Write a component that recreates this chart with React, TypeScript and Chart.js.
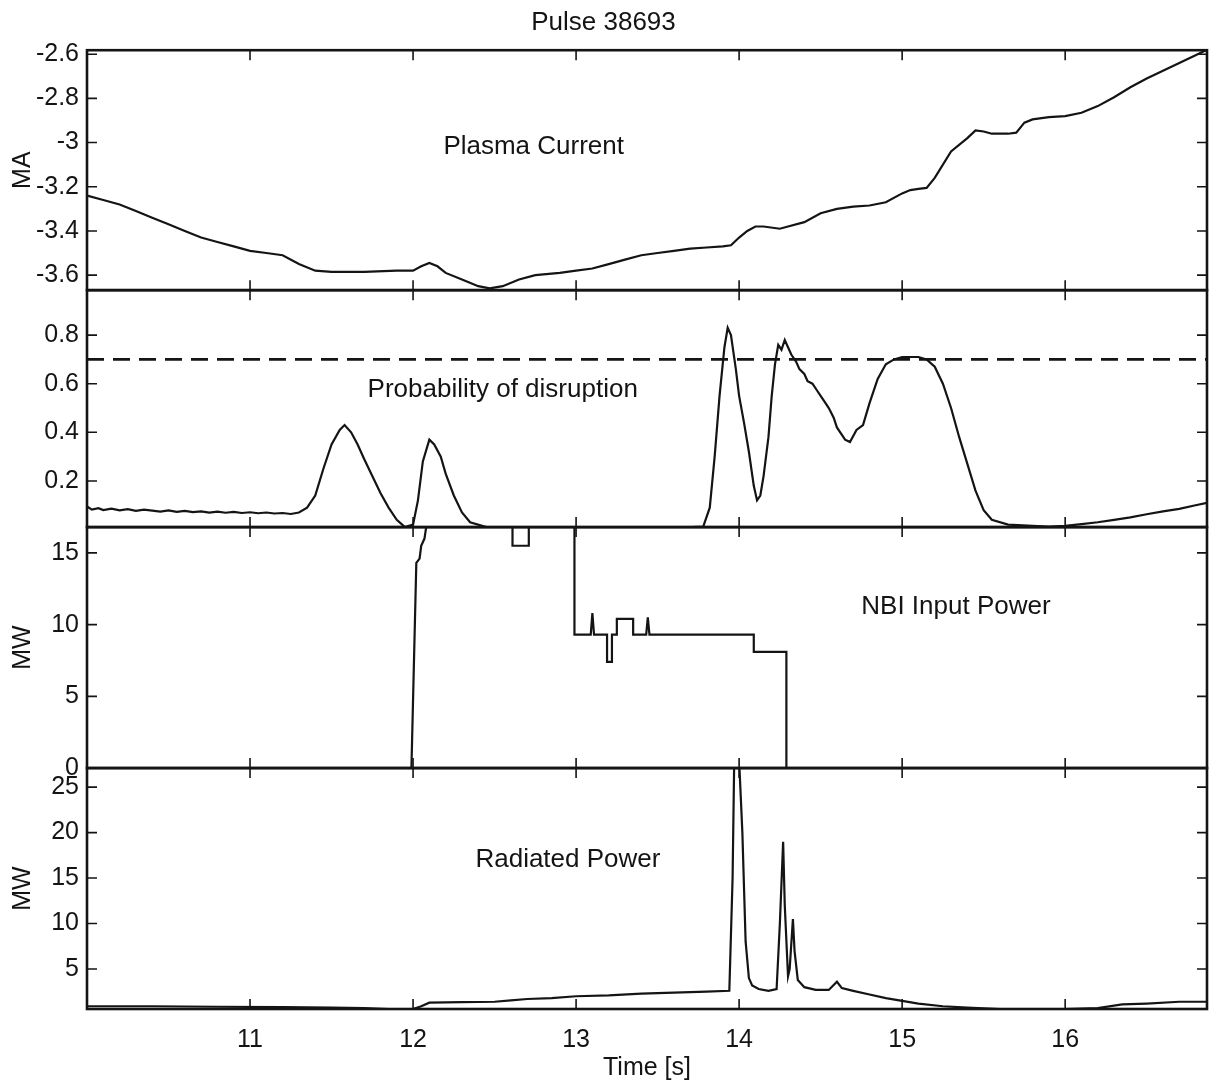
import React, { useEffect, useRef } from "react";
import { Chart, registerables } from "chart.js";

Chart.register(...registerables);

// ---------- data ----------
const CHART_TITLE = "Pulse 38693";
const X_TITLE = "Time [s]";
const X_TICKS = [11, 12, 13, 14, 15, 16];

// Plasma current (MA)
const IP_T = [10.0, 10.1, 10.2, 10.3, 10.4, 10.5, 10.6, 10.7, 10.8, 10.9, 11.0, 11.1, 11.2, 11.3, 11.4, 11.5, 11.7, 11.9, 12.0, 12.05, 12.1, 12.15, 12.2, 12.3, 12.4, 12.47, 12.55, 12.65, 12.75, 12.9, 13.0, 13.1, 13.2, 13.3, 13.4, 13.5, 13.6, 13.7, 13.8, 13.9, 13.95, 14.0, 14.05, 14.1, 14.15, 14.25, 14.3, 14.4, 14.5, 14.6, 14.7, 14.8, 14.9, 15.0, 15.05, 15.1, 15.15, 15.2, 15.3, 15.4, 15.45, 15.5, 15.55, 15.65, 15.7, 15.75, 15.8, 15.9, 16.0, 16.1, 16.2, 16.3, 16.4, 16.5, 16.6, 16.7, 16.8, 16.87];
const IP_V = [-3.24, -3.26, -3.28, -3.31, -3.34, -3.37, -3.40, -3.43, -3.45, -3.47, -3.49, -3.50, -3.51, -3.55, -3.58, -3.585, -3.585, -3.58, -3.58, -3.56, -3.545, -3.56, -3.59, -3.62, -3.65, -3.66, -3.65, -3.62, -3.60, -3.59, -3.58, -3.57, -3.55, -3.53, -3.51, -3.50, -3.49, -3.48, -3.475, -3.47, -3.465, -3.43, -3.40, -3.38, -3.38, -3.39, -3.38, -3.36, -3.32, -3.30, -3.29, -3.285, -3.27, -3.23, -3.215, -3.21, -3.205, -3.16, -3.04, -2.98, -2.945, -2.95, -2.96, -2.96, -2.955, -2.91, -2.895, -2.885, -2.88, -2.865, -2.835, -2.795, -2.75, -2.71, -2.675, -2.64, -2.605, -2.58];
const IP_TICKS = [-3.6, -3.4, -3.2, -3, -2.8, -2.6];

// Probability of disruption
const PD_T = [10.0, 10.03, 10.07, 10.1, 10.15, 10.2, 10.25, 10.3, 10.35, 10.4, 10.45, 10.5, 10.55, 10.6, 10.65, 10.7, 10.75, 10.8, 10.85, 10.9, 10.95, 11.0, 11.05, 11.1, 11.15, 11.2, 11.25, 11.3, 11.35, 11.4, 11.45, 11.5, 11.55, 11.58, 11.62, 11.66, 11.7, 11.75, 11.8, 11.85, 11.9, 11.95, 12.0, 12.03, 12.06, 12.1, 12.13, 12.17, 12.2, 12.25, 12.3, 12.35, 12.45, 12.7, 13.0, 13.3, 13.6, 13.78, 13.82, 13.85, 13.88, 13.91, 13.93, 13.95, 13.98, 14.0, 14.03, 14.06, 14.09, 14.11, 14.13, 14.15, 14.18, 14.2, 14.22, 14.24, 14.26, 14.28, 14.3, 14.32, 14.35, 14.37, 14.4, 14.42, 14.45, 14.48, 14.5, 14.53, 14.55, 14.58, 14.6, 14.65, 14.68, 14.72, 14.76, 14.8, 14.85, 14.9, 14.95, 15.0, 15.1, 15.15, 15.2, 15.25, 15.3, 15.35, 15.4, 15.45, 15.5, 15.55, 15.65, 15.8, 15.9, 16.0, 16.1, 16.2, 16.3, 16.4, 16.5, 16.6, 16.7, 16.8, 16.87];
const PD_V = [0.095, 0.082, 0.088, 0.08, 0.086, 0.079, 0.084, 0.077, 0.082, 0.078, 0.074, 0.079, 0.073, 0.077, 0.072, 0.075, 0.07, 0.074, 0.069, 0.073, 0.068, 0.071, 0.067, 0.07, 0.066, 0.068, 0.064, 0.07, 0.09, 0.14, 0.25, 0.35, 0.41, 0.43, 0.40, 0.35, 0.29, 0.22, 0.15, 0.09, 0.04, 0.01, 0.02, 0.12, 0.28, 0.37, 0.35, 0.30, 0.23, 0.14, 0.07, 0.03, 0.01, 0.008, 0.006, 0.008, 0.007, 0.012, 0.09, 0.30, 0.55, 0.75, 0.83, 0.80, 0.66, 0.55, 0.44, 0.32, 0.18, 0.12, 0.14, 0.22, 0.38, 0.55, 0.68, 0.76, 0.74, 0.78, 0.75, 0.72, 0.69, 0.66, 0.64, 0.61, 0.6, 0.57, 0.55, 0.52, 0.5, 0.46, 0.42, 0.37, 0.36, 0.41, 0.43, 0.52, 0.62, 0.68, 0.70, 0.71, 0.71, 0.70, 0.67, 0.60, 0.50, 0.38, 0.27, 0.16, 0.08, 0.04, 0.02, 0.015, 0.012, 0.015, 0.022, 0.03, 0.04, 0.05, 0.063, 0.075, 0.085, 0.1, 0.11];
const PD_THRESHOLD = 0.7;
const PD_TICKS = [0.2, 0.4, 0.6, 0.8];

// NBI input power (MW)
const NBI_T = [10.0, 11.99, 12.02, 12.04, 12.05, 12.07, 12.09, 12.61, 12.61, 12.71, 12.71, 12.99, 12.99, 13.09, 13.1, 13.11, 13.19, 13.19, 13.22, 13.22, 13.25, 13.25, 13.35, 13.35, 13.43, 13.44, 13.45, 14.09, 14.09, 14.29, 14.29, 16.87];
const NBI_V = [0, 0, 14.3, 14.6, 15.5, 16.0, 17.5, 17.5, 15.5, 15.5, 17.5, 17.5, 9.3, 9.3, 10.8, 9.3, 9.3, 7.4, 7.4, 9.3, 9.3, 10.4, 10.4, 9.3, 9.3, 10.5, 9.3, 9.3, 8.1, 8.1, 0, 0];
const NBI_TICKS = [0, 5, 10, 15];

// Radiated power (MW)
const RAD_T = [10.0, 10.4, 10.8, 11.2, 11.5, 11.7, 11.85, 12.0, 12.05, 12.1, 12.3, 12.5, 12.6, 12.7, 12.85, 13.0, 13.2, 13.4, 13.6, 13.8, 13.94, 13.96, 13.97, 14.0, 14.02, 14.04, 14.06, 14.08, 14.12, 14.18, 14.23, 14.25, 14.27, 14.28, 14.3, 14.31, 14.33, 14.34, 14.36, 14.4, 14.47, 14.55, 14.6, 14.63, 14.7, 14.8, 14.9, 15.0, 15.1, 15.25, 15.4, 15.6, 15.8, 16.0, 16.2, 16.35, 16.5, 16.7, 16.87];
const RAD_V = [0.9, 0.9, 0.85, 0.8, 0.75, 0.7, 0.6, 0.6, 0.9, 1.3, 1.35, 1.4, 1.55, 1.7, 1.8, 2.0, 2.1, 2.3, 2.4, 2.5, 2.6, 15, 28, 28, 20, 8, 4, 3.2, 2.8, 2.6, 2.8, 10, 19, 12, 4.2, 5, 10.5, 7, 3.8, 3.0, 2.7, 2.7, 3.6, 2.9, 2.6, 2.2, 1.8, 1.5, 1.2, 0.9, 0.75, 0.6, 0.6, 0.6, 0.7, 1.1, 1.2, 1.4, 1.4];
const RAD_TICKS = [5, 10, 15, 20, 25];

const PANEL_LABELS = ["Plasma Current", "Probability of disruption", "NBI Input Power", "Radiated Power"];
const PANEL_UNITS = ["MA", "", "MW", "MW"];

// ---------- styling ----------
const FONT = '"Liberation Sans", Arial, Helvetica, sans-serif';
const INK = "#141414";
const X_MIN = 10;
const X_MAX = 16.87;

const pts = (t: number[], v: number[]) => t.map((x, i) => ({ x, y: v[i] }));
const fmt = (v: number) => String(parseFloat(Number(v).toFixed(2)));

const PANELS = [
  { id: "y1", ticks: IP_TICKS, min: -3.668, max: -2.582, weight: 240, unit: PANEL_UNITS[0], label: PANEL_LABELS[0], at: [12.74, -3.02] },
  { id: "y2", ticks: PD_TICKS, min: 0.01, max: 0.985, weight: 237, unit: PANEL_UNITS[1], label: PANEL_LABELS[1], at: [12.55, 0.574] },
  { id: "y3", ticks: NBI_TICKS, min: 0, max: 16.8, weight: 241, unit: PANEL_UNITS[2], label: PANEL_LABELS[2], at: [15.33, 11.26] },
  { id: "y4", ticks: RAD_TICKS, min: 0.6, max: 27.1, weight: 241, unit: PANEL_UNITS[3], label: PANEL_LABELS[3], at: [12.95, 17.0] },
];

const yScale = (p: any) => ({
  type: "linear",
  position: "left",
  stack: "panels",
  stackWeight: p.weight,
  min: p.min,
  max: p.max,
  grid: { display: false, drawTicks: false },
  border: { display: false },
  ticks: {
    color: INK,
    font: { family: FONT, size: 25 },
    padding: 8,
    autoSkip: false,
    includeBounds: false,
    callback: (v: any) => fmt(v),
  },
  afterBuildTicks: (s: any) => {
    s.ticks = p.ticks.map((v: number) => ({ value: v }));
  },
  afterFit: (s: any) => {
    s.width = 87;
  },
  title: {
    display: !!p.unit,
    text: p.unit,
    color: INK,
    font: { family: FONT, size: 25 },
    padding: { top: 8, bottom: 0 },
  },
});

const panelClip = {
  id: "panelClip",
  beforeDatasetDraw(chart: any, args: any) {
    const ys = chart.scales[args.meta.yAxisID];
    const a = chart.chartArea;
    chart.ctx.save();
    chart.ctx.beginPath();
    chart.ctx.rect(a.left, ys.top, a.right - a.left, ys.bottom - ys.top);
    chart.ctx.clip();
  },
  afterDatasetDraw(chart: any) {
    chart.ctx.restore();
  },
};

const panelDecor = {
  id: "panelDecor",
  afterDraw(chart: any) {
    const { ctx, chartArea: a, scales } = chart;
    const xs = scales.x;
    ctx.save();
    ctx.strokeStyle = INK;
    for (const p of PANELS) {
      const ys = scales[p.id];
      ctx.lineWidth = 1.6;
      ctx.beginPath();
      for (const v of p.ticks) {
        const py = ys.getPixelForValue(v);
        ctx.moveTo(a.left, py);
        ctx.lineTo(a.left + 10, py);
        ctx.moveTo(a.right, py);
        ctx.lineTo(a.right - 10, py);
      }
      for (const v of X_TICKS) {
        const px = xs.getPixelForValue(v);
        ctx.moveTo(px, ys.top);
        ctx.lineTo(px, ys.top + 10);
        ctx.moveTo(px, ys.bottom);
        ctx.lineTo(px, ys.bottom - 10);
      }
      ctx.stroke();
      ctx.lineWidth = 2.6;
      ctx.strokeRect(a.left, ys.top, a.right - a.left, ys.bottom - ys.top);
      // panel label
      ctx.fillStyle = INK;
      ctx.font = `26px ${FONT}`;
      ctx.textAlign = "center";
      ctx.textBaseline = "middle";
      ctx.fillText(p.label, xs.getPixelForValue(p.at[0]), ys.getPixelForValue(p.at[1]));
    }
    ctx.restore();
  },
};

export default function App() {
  const ref = useRef<HTMLCanvasElement | null>(null);

  useEffect(() => {
    document.body.style.margin = "0";
    const canvas = ref.current;
    if (!canvas) return;
    const line = (data: any, yAxisID: string, extra: any = {}) => ({
      data,
      yAxisID,
      xAxisID: "x",
      borderColor: INK,
      borderWidth: 2.2,
      pointRadius: 0,
      tension: 0,
      fill: false,
      ...extra,
    });

    const scales: any = {
      x: {
        type: "linear",
        position: "bottom",
        min: X_MIN,
        max: X_MAX,
        grid: { display: false, drawTicks: false },
        border: { display: false },
        ticks: {
          color: INK,
          font: { family: FONT, size: 25 },
          padding: 16,
          autoSkip: false,
          includeBounds: false,
          maxRotation: 0,
          callback: (v: any) => fmt(v),
        },
        afterBuildTicks: (s: any) => {
          s.ticks = X_TICKS.map((v) => ({ value: v }));
        },
        afterFit: (s: any) => {
          s.height = 74;
        },
        title: {
          display: true,
          text: X_TITLE,
          color: INK,
          font: { family: FONT, size: 25 },
          padding: { top: 0, bottom: 0 },
        },
      },
    };
    // last defined left-stacked axis is placed on top
    [...PANELS].reverse().forEach((p) => {
      scales[p.id] = yScale(p);
    });

    const chart = new Chart(canvas, {
      type: "line",
      data: {
        datasets: [
          line(pts(IP_T, IP_V), "y1"),
          line(pts(PD_T, PD_V), "y2"),
          line(
            [
              { x: X_MIN, y: PD_THRESHOLD },
              { x: X_MAX, y: PD_THRESHOLD },
            ],
            "y2",
            { borderDash: [17, 9], borderWidth: 2.6 }
          ),
          line(pts(NBI_T, NBI_V), "y3"),
          line(pts(RAD_T, RAD_V), "y4"),
        ],
      },
      options: {
        responsive: false,
        animation: false,
        layout: { padding: { left: 0, right: 6, top: 0, bottom: 0 } },
        plugins: {
          legend: { display: false },
          tooltip: { enabled: false },
          title: {
            display: true,
            text: CHART_TITLE,
            color: INK,
            font: { family: FONT, size: 26, weight: "normal" },
            padding: { top: 7, bottom: 12 },
          },
        },
        scales,
      } as any,
      plugins: [panelClip, panelDecor],
    });
    return () => chart.destroy();
  }, []);

  return (
    <div style={{ position: "absolute", left: 0, top: 0, width: 1213, height: 1083, background: "#fff" }}>
      <canvas ref={ref} width={1213} height={1083} style={{ display: "block" }} />
    </div>
  );
}
